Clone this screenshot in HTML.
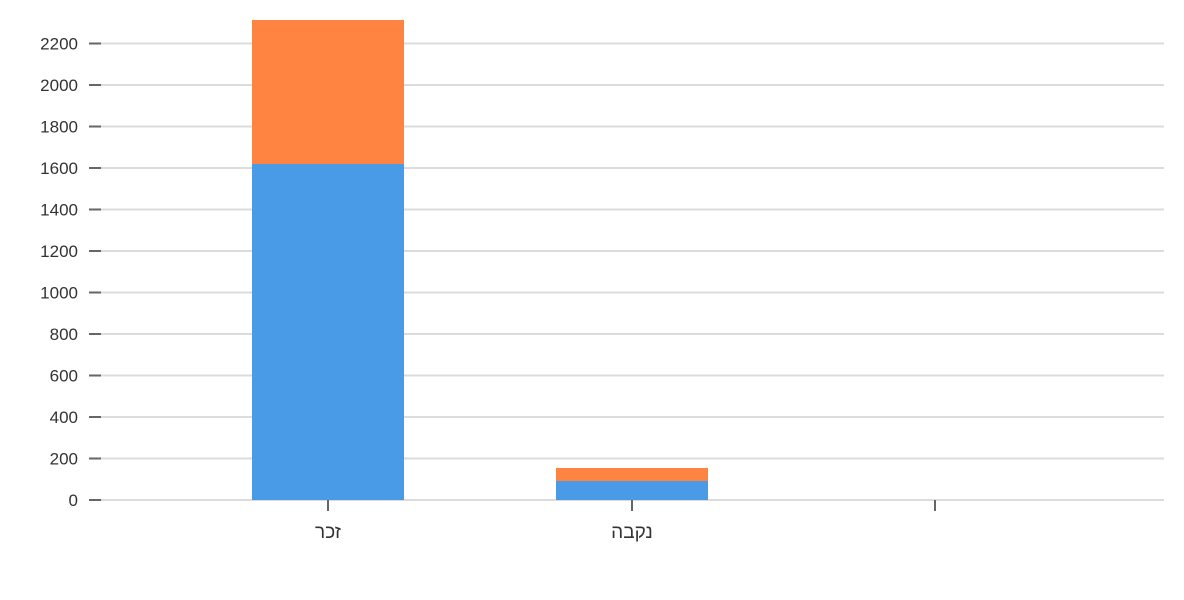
<!DOCTYPE html>
<html><head><meta charset="utf-8"><style>body{margin:0;background:#fff}svg{display:block}</style></head><body>
<svg width="1184" height="600" xmlns="http://www.w3.org/2000/svg" font-family="Liberation Sans, DejaVu Sans, sans-serif">
<g stroke="#dcdcdc" stroke-width="2">
<line x1="101" x2="1164" y1="500" y2="500"/><line x1="101" x2="1164" y1="458.5" y2="458.5"/><line x1="101" x2="1164" y1="417" y2="417"/><line x1="101" x2="1164" y1="375.5" y2="375.5"/><line x1="101" x2="1164" y1="334" y2="334"/><line x1="101" x2="1164" y1="292.5" y2="292.5"/><line x1="101" x2="1164" y1="251" y2="251"/><line x1="101" x2="1164" y1="209.5" y2="209.5"/><line x1="101" x2="1164" y1="168" y2="168"/><line x1="101" x2="1164" y1="126.5" y2="126.5"/><line x1="101" x2="1164" y1="85" y2="85"/><line x1="101" x2="1164" y1="43.5" y2="43.5"/>
</g>
<g stroke="#666" stroke-width="2">
<line x1="89" x2="101" y1="500" y2="500"/><line x1="89" x2="101" y1="458.5" y2="458.5"/><line x1="89" x2="101" y1="417" y2="417"/><line x1="89" x2="101" y1="375.5" y2="375.5"/><line x1="89" x2="101" y1="334" y2="334"/><line x1="89" x2="101" y1="292.5" y2="292.5"/><line x1="89" x2="101" y1="251" y2="251"/><line x1="89" x2="101" y1="209.5" y2="209.5"/><line x1="89" x2="101" y1="168" y2="168"/><line x1="89" x2="101" y1="126.5" y2="126.5"/><line x1="89" x2="101" y1="85" y2="85"/><line x1="89" x2="101" y1="43.5" y2="43.5"/>
<line x1="328" x2="328" y1="500" y2="511"/><line x1="632" x2="632" y1="500" y2="511"/><line x1="935" x2="935" y1="500" y2="511"/>
</g>
<g font-size="17" fill="#333" text-anchor="end">
<text x="78" y="506">0</text><text x="78" y="464.5">200</text><text x="78" y="423">400</text><text x="78" y="381.5">600</text><text x="78" y="340">800</text><text x="78" y="298.5">1000</text><text x="78" y="257">1200</text><text x="78" y="215.5">1400</text><text x="78" y="174">1600</text><text x="78" y="132.5">1800</text><text x="78" y="91">2000</text><text x="78" y="49.5">2200</text>
</g>
<rect x="252" y="164" width="152" height="336" fill="#499be8"/>
<rect x="252" y="20" width="152" height="144" fill="#ff8441"/>
<rect x="556" y="481" width="152" height="19" fill="#499be8"/>
<rect x="556" y="468" width="152" height="13" fill="#ff8441"/>
<g font-size="19" fill="#333" text-anchor="middle" font-family="Liberation Sans, DejaVu Sans, sans-serif">
<text x="328" y="538">זכר</text><text x="632" y="538">נקבה</text>
</g>
</svg>
</body></html>
